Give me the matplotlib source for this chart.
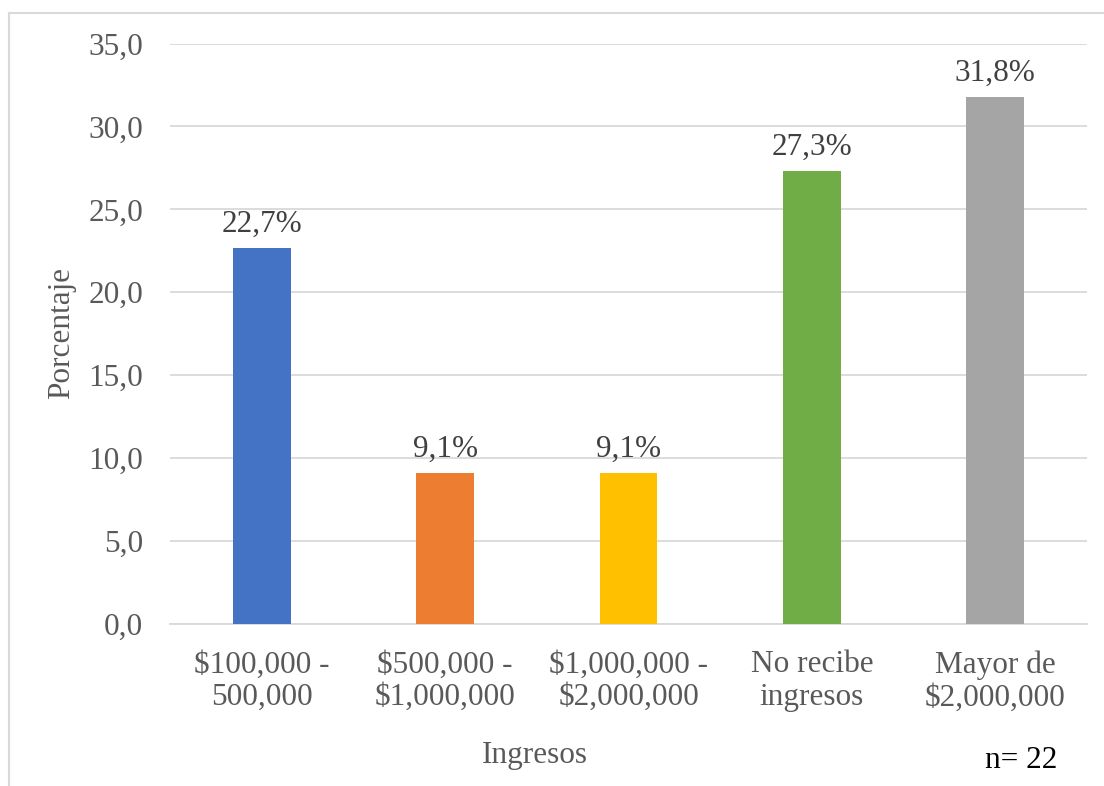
import matplotlib.pyplot as plt
import numpy as np

categorias = ["$100,000 -\n500,000", "$500,000 -\n$1,000,000", "$1,000,000 -\n$2,000,000",
              "No recibe\ningresos", "Mayor de\n$2,000,000"]
porcentajes = [22.7, 9.1, 9.1, 27.3, 31.8]
colores = ["#4472C4", "#ED7D31", "#FFC000", "#70AD47", "#A5A5A5"]
yticks = [0, 5, 10, 15, 20, 25, 30, 35]

plt.rcParams['font.family'] = ['Liberation Serif', 'DejaVu Serif']

W, H = 1104, 786
fs = 22.5
fig = plt.figure(figsize=(W / 100, H / 100), dpi=100)
ax = fig.add_axes([170 / W, 1 - 624 / H, (1087 - 170) / W, (624 - 43.5) / H])

x = np.arange(len(categorias))
ax.bar(x, porcentajes, width=0.316, color=colores, zorder=3)
for xi, v in zip(x, porcentajes):
    ax.text(xi, v + 0.55, f"{v:.1f}%".replace(".", ","), ha="center", va="bottom",
            fontsize=fs, color="#404040")

ax.set_xlim(-0.5, len(categorias) - 0.5)
ax.set_ylim(0, 35)
ax.set_yticks(yticks)
ax.set_yticklabels([f"{t:.1f}".replace(".", ",") for t in yticks], fontsize=fs, color="#595959")
ax.set_xticks(x)
ax.set_xticklabels(categorias, fontsize=fs, color="#595959", linespacing=1.17)
ax.tick_params(axis="both", length=0)
ax.tick_params(axis="x", pad=19)
ax.tick_params(axis="y", pad=19.5)
ax.grid(axis="y", color="#D9D9D9", linewidth=1.3, zorder=0)
for s in ["top", "right", "left"]:
    ax.spines[s].set_visible(False)
ax.spines["bottom"].set_color("#D9D9D9")
ax.spines["bottom"].set_linewidth(1.3)

fig.text(62 / W, 1 - 333 / H, "Porcentaje", rotation=90, ha="center", va="center",
         fontsize=fs, color="#595959")
fig.text(535 / W, 1 - 755 / H, "Ingresos", ha="center", va="center",
         fontsize=fs, color="#595959")
fig.text(1021 / W, 1 - 760 / H, "n= 22", ha="center", va="center",
         fontsize=fs, color="black")

# marco exterior del grafico (sin borde inferior)
borde = dict(color="#D9D9D9", linewidth=1.5)
fig.add_artist(plt.Line2D([9 / W, 9 / W], [0, 1 - 13 / H], transform=fig.transFigure, **borde))
fig.add_artist(plt.Line2D([9 / W, 1], [1 - 13 / H, 1 - 13 / H], transform=fig.transFigure, **borde))

fig.savefig("out.png", dpi=100)
